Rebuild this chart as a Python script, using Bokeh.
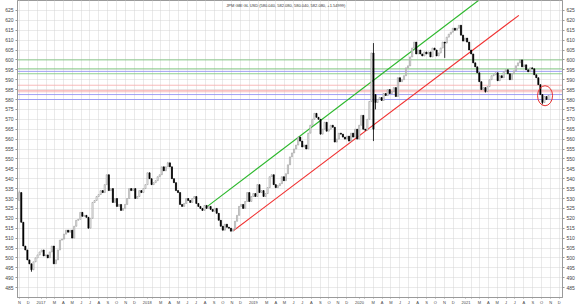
from datetime import date, timedelta
from bokeh.plotting import figure
from bokeh.models import FixedTicker, Range1d, Label, LinearAxis
from bokeh.embed import file_html
from bokeh.resources import INLINE

ORIGIN = date(2016, 11, 1)
FIRST_WEEK = date(2016, 10, 31)


def dnum(y, m, d):
    return (date(y, m, d) - ORIGIN).days


TITLE = "JPM GBI GL USD (580.040, 582.080, 580.040, 582.080, +1.54999)"

# weekly closes
closes = [
    533, 518, 506, 504, 499, 497, 494, 498, 500, 501.5,
    503, 504, 501, 501.5, 500, 503, 506, 497, 499, 504,
    509, 509.5, 512, 514, 513, 514, 510, 516, 519, 519.5,
    523, 521, 521.5, 520.5, 515, 520, 528, 529, 531, 532,
    534, 533, 537, 542, 534, 535, 528, 530, 526, 527,
    524, 525, 527, 530, 535, 534, 535, 530, 531, 534,
    533, 535, 537, 543, 540, 537, 538, 539, 541, 542,
    546, 544, 546, 548, 546, 540, 538, 534, 533, 527,
    526, 527.5, 530, 529, 528, 530, 531, 527.5, 526, 525,
    524, 526.5, 525, 526, 524.5, 523.5, 525, 522.5, 519, 516,
    514, 517, 515.5, 515, 513.5, 514.5, 518.5, 521.5, 526, 527,
    525, 528.5, 533, 528.5, 531, 532.5, 531, 537, 533, 534,
    531, 532.5, 535.5, 541, 542, 537, 535.5, 536.5, 537.5, 541,
    539, 542.5, 547, 551, 553, 555, 557, 561, 559, 556,
    557, 555, 563, 567, 570, 573, 571, 570, 562.5, 565,
    568.5, 564, 565, 567, 566, 558.5, 560, 563, 562.5, 561,
    560, 561.5, 559, 563, 561, 565, 560, 567, 572, 565,
    564.5, 570, 579, 603.5, 565, 578.5, 580, 581, 579.5, 583,
    582, 585, 583, 584, 586, 581.5, 591, 589, 590, 592,
    596, 597, 601.5, 606, 609, 603, 605, 603, 602, 604,
    603, 604, 601.5, 606, 605, 602, 603.5, 606, 609, 608.5,
    611.5, 613, 614, 616, 615, 616, 617.5, 612.5, 609.5, 611,
    609, 605, 603, 598.5, 596.5, 593.5, 589, 585, 586, 584,
    586.5, 590, 592, 592.5, 593.5, 589.5, 592, 591, 594, 595,
    593, 590, 593, 594.5, 597, 598.5, 600, 596.5, 597.5, 595,
    594, 596, 595.5, 592.5, 591, 587.5, 582.5, 578.5, 581.5, 580.04,
    582.08,
]
open_overrides = {0: 529.0, 175: 582.5}
high_overrides = {0: 534.0, 73: 548.5, 174: 608.5}
low_overrides = {6: 493.0, 174: 559.0, 175: 575.0, 209: 601.0, 229: 583.5, 257: 577.5}

# horizontal levels
green_levels = [600.0, 595.5, 593.0]
blue_levels = [594.2, 582.5, 580.0]
pink_levels = [587.2, 584.6, 583.9]

# trend channel (date, value)
green_trend = [((2018, 8, 9), 526.0), ((2021, 2, 26), 630.0)]
red_trend = [((2018, 11, 6), 513.7), ((2021, 7, 15), 622.5)]

# highlight circle
circle_at = ((2021, 10, 13), 581.9)

month_letters = ["J", "F", "M", "A", "M", "J", "J", "A", "S", "O", "N", "D"]

# ---- build candles ----
xs, opens, highs, lows = [], [], [], []
for i, c in enumerate(closes):
    xs.append((FIRST_WEEK + timedelta(days=7 * i) - ORIGIN).days)
    o = open_overrides.get(i, closes[i - 1] if i > 0 else c)
    opens.append(o)
    highs.append(high_overrides.get(i, max(o, c)))
    lows.append(low_overrides.get(i, min(o, c)))

up = dict(x=[], top=[], bottom=[], hi=[], lo=[])
dn = dict(x=[], top=[], bottom=[], hi=[], lo=[])
for x, o, h, l, c in zip(xs, opens, highs, lows, closes):
    d = up if c >= o else dn
    d["x"].append(x)
    d["top"].append(max(o, c))
    d["bottom"].append(min(o, c))
    d["hi"].append(h)
    d["lo"].append(l)

p = figure(width=580, height=307, output_backend="svg", toolbar_location=None,
           x_range=Range1d(-7, 1867), y_range=Range1d(480, 630),
           min_border_left=17, min_border_right=18, min_border_top=0, min_border_bottom=7,
           background_fill_color="white", border_fill_color="white")
p.outline_line_color = "#9a9a9a"

# month ticks
month_ticks, tick_pos, overrides = [], [], {}
y, m = 2016, 11
while (y, m) <= (2021, 12):
    t = dnum(y, m, 1)
    month_ticks.append(t)
    if m == 1:
        pos = t + 13
        overrides[pos] = str(y)
    elif m == 2:
        pos = t
        overrides[pos] = ""
    else:
        pos = t
        overrides[pos] = month_letters[m - 1]
    tick_pos.append(pos)
    m += 1
    if m > 12:
        m, y = 1, y + 1

p.xaxis.ticker = FixedTicker(ticks=tick_pos)
p.xaxis.major_label_overrides = overrides
p.xgrid.ticker = FixedTicker(ticks=month_ticks)
ytick_vals = list(range(485, 630, 5))
p.yaxis.ticker = FixedTicker(ticks=ytick_vals)
p.ygrid.ticker = FixedTicker(ticks=ytick_vals)

for g in (p.xgrid, p.ygrid):
    g.grid_line_color = "#d4d4d4"
    g.grid_line_dash = "1 1"
    g.grid_line_width = 1

right_axis = LinearAxis(ticker=FixedTicker(ticks=ytick_vals))
p.add_layout(right_axis, "right")

for ax in p.yaxis:
    ax.major_label_text_font_size = "5px"
    ax.major_label_text_color = "#444444"
    ax.major_label_text_font = "Liberation Sans"
    ax.major_tick_out = 2
    ax.major_tick_in = 0
    ax.minor_tick_out = 0
    ax.minor_tick_in = 0
    ax.major_label_standoff = 2
    ax.axis_line_color = "#9a9a9a"
    ax.major_tick_line_color = "#9a9a9a"
for ax in p.xaxis:
    ax.major_label_text_font_size = "4px"
    ax.major_label_text_color = "#444444"
    ax.major_label_text_font = "Liberation Sans"
    ax.major_tick_out = 1
    ax.major_tick_in = 0
    ax.minor_tick_out = 0
    ax.minor_tick_in = 0
    ax.major_label_standoff = 1
    ax.axis_line_color = "#9a9a9a"
    ax.major_tick_line_color = "#9a9a9a"

# horizontal levels
x0, x1 = -7, 1867
for v in green_levels:
    p.segment(x0=[x0], y0=[v], x1=[x1], y1=[v], line_color="#74c474", line_width=1, line_alpha=0.8)
for v in blue_levels:
    p.segment(x0=[x0], y0=[v], x1=[x1], y1=[v], line_color="#8a8af2", line_width=1, line_alpha=0.8)
for v in pink_levels:
    p.segment(x0=[x0], y0=[v], x1=[x1], y1=[v], line_color="#f6aaaa", line_width=1, line_alpha=0.8)

# trend lines
(gd0, gv0), (gd1, gv1) = green_trend
p.line([dnum(*gd0), dnum(*gd1)], [gv0, gv1], line_color="#2db82d", line_width=1.1)
(rd0, rv0), (rd1, rv1) = red_trend
p.line([dnum(*rd0), dnum(*rd1)], [rv0, rv1], line_color="#f03030", line_width=1.1)

# candles
p.segment(x0="x", y0="hi", x1="x", y1="lo", source=up, line_color="#9a9a9a", line_width=0.8)
p.vbar(x="x", top="top", bottom="bottom", width=4.0, source=up,
       fill_color="white", line_color="#9a9a9a", line_width=0.6)
p.segment(x0="x", y0="hi", x1="x", y1="lo", source=dn, line_color="black", line_width=0.8)
p.vbar(x="x", top="top", bottom="bottom", width=4.0, source=dn,
       fill_color="black", line_color="black", line_width=0.6)

# highlight circle
(cd, cv) = circle_at
p.ellipse(x=[dnum(*cd)], y=[cv], width=15, height=20, width_units="screen", height_units="screen",
          fill_color=None, line_color="#e83030", line_width=1)

p.add_layout(Label(x=916, y=627.4, text=TITLE, text_align="center", text_baseline="middle",
                   text_font_size="4px", text_color="#333333", text_font="Liberation Sans"))

open("out.html", "w").write(file_html(p, INLINE))
